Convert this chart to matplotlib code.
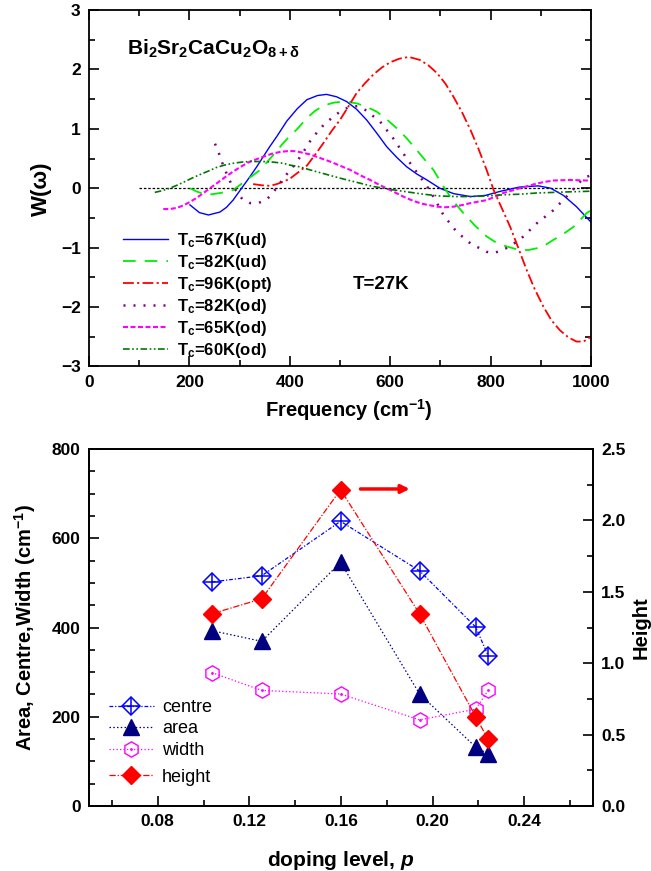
import matplotlib
matplotlib.use("Agg")
import matplotlib.pyplot as plt
from matplotlib.ticker import MultipleLocator, FormatStrFormatter
from matplotlib.legend_handler import HandlerTuple

plt.rcParams['font.family'] = ['Liberation Sans', 'DejaVu Sans']
plt.rcParams['mathtext.fontset'] = 'custom'
plt.rcParams['mathtext.rm'] = 'Liberation Sans:bold'
plt.rcParams['mathtext.it'] = 'Liberation Sans:bold:italic'
plt.rcParams['mathtext.bf'] = 'Liberation Sans:bold'

# ---- W(omega) curves at T = 27 K ----
w67ud = [201, 220, 238, 261, 274, 287, 304, 321, 334, 347, 360, 374, 394, 415, 434, 455, 473, 493,
         513, 533, 553, 573, 593, 613, 633, 653, 673, 699, 726, 760, 790, 820, 858, 895, 920, 945, 971, 1000]
W67ud = [-0.28, -0.41, -0.45, -0.40, -0.32, -0.20, 0.00, 0.20, 0.36, 0.53, 0.70, 0.87, 1.13, 1.34, 1.49, 1.56, 1.58, 1.54,
         1.46, 1.33, 1.15, 0.93, 0.70, 0.52, 0.36, 0.24, 0.14, 0.00, -0.09, -0.14, -0.12, -0.05, 0.02, 0.04, 0.00, -0.12, -0.31, -0.57]

w82ud = [201, 216, 231, 246, 261, 274, 287, 300, 314, 327, 341, 364, 387, 400, 414, 434, 450, 467, 487, 507,
         533, 553, 573, 593, 613, 633, 653, 670, 686, 706, 726, 746, 769, 792, 812, 832, 858, 875, 892, 910,
         925, 945, 965, 980, 991, 1000]
W82ud = [0.00, -0.06, -0.10, -0.10, -0.08, -0.06, -0.03, 0.05, 0.14, 0.22, 0.31, 0.53, 0.76, 0.88, 0.99, 1.18, 1.30, 1.39, 1.44, 1.46,
         1.43, 1.37, 1.29, 1.16, 1.01, 0.84, 0.64, 0.47, 0.31, 0.03, -0.22, -0.42, -0.63, -0.81, -0.92, -0.98, -1.04, -1.04, -1.01, -0.95,
         -0.87, -0.77, -0.65, -0.52, -0.42, -0.37]

w96opt = [327, 344, 361, 374, 387, 400, 414, 434, 450, 467, 483, 500, 517, 533, 550, 566, 583, 600, 618, 637,
          659, 676, 693, 710, 726, 743, 760, 776, 792, 806, 822, 839, 855, 872, 888, 905, 921, 938, 955, 971, 985, 1000]
W96opt = [0.07, 0.05, 0.04, 0.07, 0.11, 0.16, 0.25, 0.38, 0.56, 0.76, 0.96, 1.15, 1.38, 1.60, 1.77, 1.91, 2.03, 2.12, 2.18, 2.21,
          2.16, 2.07, 1.94, 1.76, 1.54, 1.28, 0.98, 0.66, 0.31, -0.03, -0.33, -0.65, -1.00, -1.38, -1.70, -1.99, -2.22, -2.39, -2.51, -2.58, -2.58, -2.50]

w82od = [251, 258, 263, 269, 276, 283, 293, 306, 321, 337, 354, 367, 380, 390, 404, 414, 424, 444, 470, 503,
         523, 535, 550, 580, 606, 633, 659, 676, 690, 706, 732, 760, 792, 806, 825, 858, 892, 925, 958, 985, 1000]
W82od = [0.75, 0.61, 0.48, 0.35, 0.21, 0.08, -0.04, -0.19, -0.25, -0.25, -0.19, -0.07, 0.08, 0.20, 0.33, 0.45, 0.57, 0.84, 1.09, 1.31,
         1.38, 1.38, 1.32, 1.12, 0.84, 0.50, 0.20, 0.00, -0.20, -0.45, -0.73, -0.93, -1.07, -1.09, -1.04, -0.87, -0.59, -0.37, -0.08, 0.17, 0.22]

w65od = [148, 161, 175, 188, 201, 215, 228, 241, 254, 270, 287, 304, 321, 334, 347, 364, 380, 400, 414, 440,
         460, 480, 500, 520, 540, 560, 580, 600, 626, 645, 663, 693, 710, 726, 745, 760, 792, 810, 825, 842,
         858, 875, 892, 910, 925, 958, 991, 1000]
W65od = [-0.35, -0.35, -0.33, -0.29, -0.23, -0.16, -0.08, 0.00, 0.08, 0.18, 0.28, 0.37, 0.45, 0.49, 0.53, 0.58, 0.61, 0.63, 0.62, 0.57,
         0.51, 0.45, 0.38, 0.31, 0.22, 0.14, 0.05, -0.03, -0.14, -0.21, -0.26, -0.31, -0.32, -0.31, -0.28, -0.25, -0.20, -0.14, -0.08, -0.04,
         0.00, 0.04, 0.08, 0.11, 0.13, 0.14, 0.13, 0.13]

w60od = [131, 146, 161, 175, 188, 205, 221, 238, 254, 270, 287, 304, 321, 347, 367, 387, 400, 420, 440, 470,
         500, 533, 566, 600, 633, 666, 699, 730, 760, 792, 825, 858, 892, 925, 958, 1000]
W60od = [-0.07, -0.04, 0.00, 0.05, 0.10, 0.17, 0.23, 0.29, 0.35, 0.39, 0.42, 0.44, 0.45, 0.45, 0.44, 0.42, 0.39, 0.36, 0.31, 0.24,
         0.17, 0.10, 0.03, -0.02, -0.06, -0.10, -0.13, -0.14, -0.14, -0.13, -0.11, -0.10, -0.08, -0.07, -0.06, -0.05]

curve_labels = ["T$_\\mathrm{c}$=67K(ud)", "T$_\\mathrm{c}$=82K(ud)", "T$_\\mathrm{c}$=96K(opt)",
                "T$_\\mathrm{c}$=82K(od)", "T$_\\mathrm{c}$=65K(od)", "T$_\\mathrm{c}$=60K(od)"]

# ---- fitted peak parameters versus doping ----
doping = [0.1036, 0.1254, 0.1598, 0.1943, 0.2188, 0.2242]
centre = [502, 516, 638, 527, 401, 337]
area = [393, 369, 546, 251, 132, 117]
width = [299, 259, 251, 193, 217, 259]
height = [1.346, 1.451, 2.215, 1.346, 0.626, 0.467]

fig = plt.figure(figsize=(6.51, 8.71), dpi=100)
W_, H_ = 651.0, 871.0

# ================= upper panel =================
ax1 = fig.add_axes([89 / W_, (H_ - 366.5) / H_, (591 - 89) / W_, 356.5 / H_])
ax1.plot([100, 1000], [0, 0], color='black', lw=0.9, dashes=(2, 1.5))
ax1.plot(w67ud, W67ud, color='#0000ff', lw=1.0, ls='-', label=curve_labels[0])
ax1.plot(w82ud, W82ud, color='#00ee00', lw=1.3, dashes=(7, 5), label=curve_labels[1])
ax1.plot(w96opt, W96opt, color='#ff0000', lw=1.3, dashes=(6, 1.8, 1.2, 1.8), label=curve_labels[2])
ax1.plot(w82od, W82od, color='#800080', lw=1.8, dashes=(0.8, 3.2), label=curve_labels[3])
ax1.plot(w65od, W65od, color='#ff00ff', lw=1.5, dashes=(2.4, 1.2), label=curve_labels[4])
ax1.plot(w60od, W60od, color='#007700', lw=1.2, dashes=(4, 1.5, 1, 1.5, 1, 1.5), label=curve_labels[5])

ax1.set_xlim(0, 1000)
ax1.set_ylim(-3, 3)
ax1.xaxis.set_major_locator(MultipleLocator(200))
ax1.xaxis.set_minor_locator(MultipleLocator(100))
ax1.yaxis.set_minor_locator(MultipleLocator(0.5))
ax1.tick_params(which='both', direction='in', top=True, right=True, width=1.2)
ax1.tick_params(which='major', length=7, labelsize=12.5, pad=6)
ax1.tick_params(which='minor', length=4)
ax1.set_yticks([-3, -2, -1, 0, 1, 2, 3])
ax1.set_yticklabels(['\u22123', '\u22122', '\u22121', '0', '1', '2', '3'])
for lab in ax1.get_xticklabels() + ax1.get_yticklabels():
    lab.set_fontweight('bold')
for s in ax1.spines.values():
    s.set_linewidth(1.3)
ax1.set_xlabel("Frequency (cm$^{-1}$)", fontsize=14.5, fontweight='bold', labelpad=6)
ax1.xaxis.set_label_coords(0.518, -0.085)
ax1.set_ylabel("W(\u03c9)", fontsize=16, fontweight='bold', labelpad=6)
ax1.text(0.075, 0.875, "Bi$_2$Sr$_2$CaCu$_2$O$_{8+\\mathrm{\u03b4}}$", transform=ax1.transAxes,
         fontsize=15, fontweight='bold')
ax1.text(0.525, 0.217, "T=27K", transform=ax1.transAxes, fontsize=13.5, fontweight='bold')
ax1.legend(loc='upper left', bbox_to_anchor=(0.055, 0.40), frameon=False,
           handlelength=2.7, handletextpad=0.5, labelspacing=0.18,
           prop={'weight': 'bold', 'size': 12}, borderaxespad=0)

# ================= lower panel =================
ax2 = fig.add_axes([89 / W_, (H_ - 806) / H_, (593 - 89) / W_, 357 / H_])
ax3 = ax2.twinx()

l_c, = ax2.plot(doping, centre, color='#0000ff', lw=0.9, dashes=(3, 1.5, 1, 1.5),
                marker='D', ms=9, mfc='none', mec='#0000ff', mew=1.1)
p_c, = ax2.plot(doping, centre, ls='none', marker='+', ms=12.5, mec='#0000ff', mew=1.1)
l_a, = ax2.plot(doping, area, color='#000080', lw=0.9, dashes=(1.2, 1.8),
                marker='^', ms=11, mfc='#000080', mec='#000080')
l_w, = ax2.plot(doping, width, color='#ff00ff', lw=0.9, dashes=(1, 1.8),
                marker='h', ms=11, mfc='none', mec='#ff00ff', mew=1.0)
d_w, = ax2.plot(doping, width, ls='none', marker='.', ms=2, color='#ff00ff')
l_h, = ax3.plot(doping, height, color='#ff0000', lw=0.9, dashes=(5, 1.5, 1, 1.5),
                marker='D', ms=9.5, mfc='#ff0000', mec='#ff0000')

ax3.annotate('', xy=(0.190, 2.22), xytext=(0.1685, 2.22),
             arrowprops=dict(arrowstyle='-|>', color='#ff0000', lw=2.5,
                             mutation_scale=12, shrinkA=0, shrinkB=0))

ax2.set_xlim(0.05, 0.27)
ax2.set_ylim(0, 800)
ax3.set_ylim(0, 2.5)
ax2.xaxis.set_major_locator(MultipleLocator(0.04))
ax2.xaxis.set_minor_locator(MultipleLocator(0.02))
ax2.xaxis.set_major_formatter(FormatStrFormatter('%.2f'))
ax2.yaxis.set_major_locator(MultipleLocator(200))
ax2.yaxis.set_minor_locator(MultipleLocator(50))
ax3.yaxis.set_major_locator(MultipleLocator(0.5))
ax3.yaxis.set_minor_locator(MultipleLocator(0.25))
ax3.yaxis.set_major_formatter(FormatStrFormatter('%.1f'))
for a in (ax2, ax3):
    a.tick_params(which='both', direction='in', width=1.2)
    a.tick_params(which='major', length=7, labelsize=12.5, pad=6)
    a.tick_params(which='minor', length=4)
    for lab in a.get_xticklabels() + a.get_yticklabels():
        lab.set_fontweight('bold')
    for s in a.spines.values():
        s.set_linewidth(1.3)

ax2.set_xlabel("doping level, $\\mathit{p}$", fontsize=15, fontweight='bold', labelpad=14)
ax2.set_ylabel("Area, Centre,Width (cm$^{-1}$)", fontsize=14.5, fontweight='bold', labelpad=10)
ax3.set_ylabel("Height", fontsize=14.5, fontweight='bold')
ax3.yaxis.set_label_coords(1.076, 0.5)

ax2.legend([(l_c, p_c), l_a, (l_w, d_w)], ['centre', 'area', 'width'],
           handler_map={tuple: HandlerTuple(ndivide=1)},
           loc='upper left', bbox_to_anchor=(0.025, 0.32), frameon=False,
           handlelength=2.5, handletextpad=0.45, labelspacing=0.25,
           prop={'size': 13}, borderaxespad=0)
ax3.legend([l_h], ['height'], loc='upper left', bbox_to_anchor=(0.025, 0.125),
           frameon=False, handlelength=2.5, handletextpad=0.45,
           prop={'size': 13}, borderaxespad=0)

fig.savefig("out.png", dpi=100)
